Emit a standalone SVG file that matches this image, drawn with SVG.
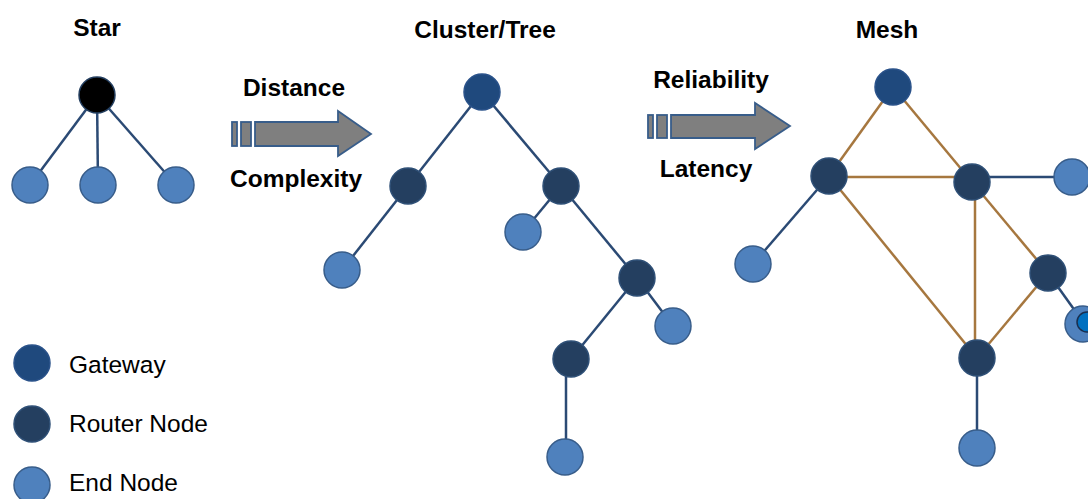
<svg xmlns="http://www.w3.org/2000/svg" width="1088" height="499" viewBox="0 0 1088 499">
<style>
.t{font-family:"Liberation Sans",Arial,sans-serif;font-weight:bold;font-size:24.5px;fill:#000;text-anchor:middle}
.l{font-family:"Liberation Sans",Arial,sans-serif;font-size:24.5px;fill:#000}
.gw{fill:#1f497d;stroke:#2a528a;stroke-width:1.5}
.rt{fill:#243f60;stroke:#2f5077;stroke-width:1.5}
.en{fill:#4f81bd;stroke:#385d8a;stroke-width:1.5}
.hub{fill:#000;stroke:#243f60;stroke-width:1.5}
.eb{stroke:#2b4a74;stroke-width:2.5;fill:none}
.ebr{stroke:#a6773f;stroke-width:2.5;fill:none}
.ar{fill:#7f7f7f;stroke:#385d8a;stroke-width:1.8}
</style>
<rect width="1088" height="499" fill="#fff"/>
<g id="titles">
<text class="t" x="97" y="36">Star</text>
<text class="t" x="485" y="38">Cluster/Tree</text>
<text class="t" x="887" y="38">Mesh</text>
</g>
<g id="arrow1">
<rect class="ar" x="232" y="122" width="5" height="24"/>
<rect class="ar" x="241" y="122" width="10" height="24"/>
<polygon class="ar" points="255,122 338,122 338,111 371,134 338,156 338,146 255,146"/>
<text class="t" x="294" y="96">Distance</text>
<text class="t" x="296" y="187">Complexity</text>
</g>
<g id="arrow2">
<rect class="ar" x="648" y="115" width="5" height="23"/>
<rect class="ar" x="657" y="115" width="10" height="23"/>
<polygon class="ar" points="671,115 755,115 755,103 790,126 755,149 755,138 671,138"/>
<text class="t" x="711" y="88">Reliability</text>
<text class="t" x="706" y="177">Latency</text>
</g>
<g id="connectors">
<line class="eb" x1="97" y1="95" x2="30" y2="185"/>
<line class="eb" x1="97" y1="95" x2="98" y2="185"/>
<line class="eb" x1="97" y1="95" x2="176" y2="185"/>
<line class="eb" x1="482" y1="92" x2="408" y2="186"/>
<line class="eb" x1="482" y1="92" x2="561" y2="186"/>
<line class="eb" x1="408" y1="186" x2="342" y2="270"/>
<line class="eb" x1="561" y1="186" x2="523" y2="232"/>
<line class="eb" x1="561" y1="186" x2="637" y2="278"/>
<line class="eb" x1="637" y1="278" x2="673" y2="326"/>
<line class="eb" x1="637" y1="278" x2="571" y2="359"/>
<line class="eb" x1="566" y1="359" x2="566" y2="457"/>
<line class="ebr" x1="893" y1="87" x2="829" y2="176"/>
<line class="ebr" x1="893" y1="87" x2="972" y2="182"/>
<line class="ebr" x1="829" y1="177" x2="972" y2="177"/>
<line class="ebr" x1="829" y1="176" x2="977" y2="358"/>
<line class="ebr" x1="975" y1="182" x2="975" y2="358"/>
<line class="ebr" x1="972" y1="182" x2="1048" y2="273"/>
<line class="ebr" x1="1048" y1="273" x2="977" y2="358"/>
<line class="eb" x1="829" y1="176" x2="753" y2="264"/>
<line class="eb" x1="972" y1="177" x2="1072" y2="177"/>
<line class="eb" x1="1048" y1="273" x2="1083" y2="322"/>
<line class="eb" x1="977" y1="358" x2="977" y2="448"/>
</g>
<g id="star-hub"><circle class="hub" cx="97" cy="95" r="18"/></g>
<g id="star-end1"><circle class="en" cx="30" cy="185" r="18"/></g>
<g id="star-end2"><circle class="en" cx="98" cy="185" r="18"/></g>
<g id="star-end3"><circle class="en" cx="176" cy="185" r="18"/></g>
<g id="tree-gw"><circle class="gw" cx="482" cy="92" r="18"/></g>
<g id="tree-r1"><circle class="rt" cx="408" cy="186" r="18"/></g>
<g id="tree-r2"><circle class="rt" cx="561" cy="186" r="18"/></g>
<g id="tree-e1"><circle class="en" cx="342" cy="270" r="18"/></g>
<g id="tree-e2"><circle class="en" cx="523" cy="232" r="18"/></g>
<g id="tree-r3"><circle class="rt" cx="637" cy="278" r="18"/></g>
<g id="tree-e3"><circle class="en" cx="673" cy="326" r="18"/></g>
<g id="tree-r4"><circle class="rt" cx="571" cy="359" r="18"/></g>
<g id="tree-e4"><circle class="en" cx="565" cy="457" r="18"/></g>
<g id="mesh-gw"><circle class="gw" cx="893" cy="87" r="18"/></g>
<g id="mesh-r1"><circle class="rt" cx="829" cy="176" r="18"/></g>
<g id="mesh-r2"><circle class="rt" cx="972" cy="182" r="18"/></g>
<g id="mesh-e1"><circle class="en" cx="1072" cy="177" r="18"/></g>
<g id="mesh-e2"><circle class="en" cx="753" cy="264" r="18"/></g>
<g id="mesh-r3"><circle class="rt" cx="1048" cy="273" r="18"/></g>
<g id="mesh-r4"><circle class="rt" cx="977" cy="358" r="18"/></g>
<g id="mesh-e3"><circle class="en" cx="977" cy="448" r="18"/></g>
<g id="mesh-e4"><circle class="en" cx="1083" cy="324" r="18"/><circle cx="1087" cy="322" r="10" fill="#0070c0" stroke="#1a2f4f" stroke-width="1.5"/></g>
<g id="legend-gw"><circle class="gw" cx="32" cy="363" r="18"/><text class="l" x="69" y="373">Gateway</text></g>
<g id="legend-rt"><circle class="rt" cx="32" cy="424" r="18"/><text class="l" x="69" y="432">Router Node</text></g>
<g id="legend-en"><circle class="en" cx="32" cy="485" r="18"/><text class="l" x="69" y="491">End Node</text></g>
</svg>
